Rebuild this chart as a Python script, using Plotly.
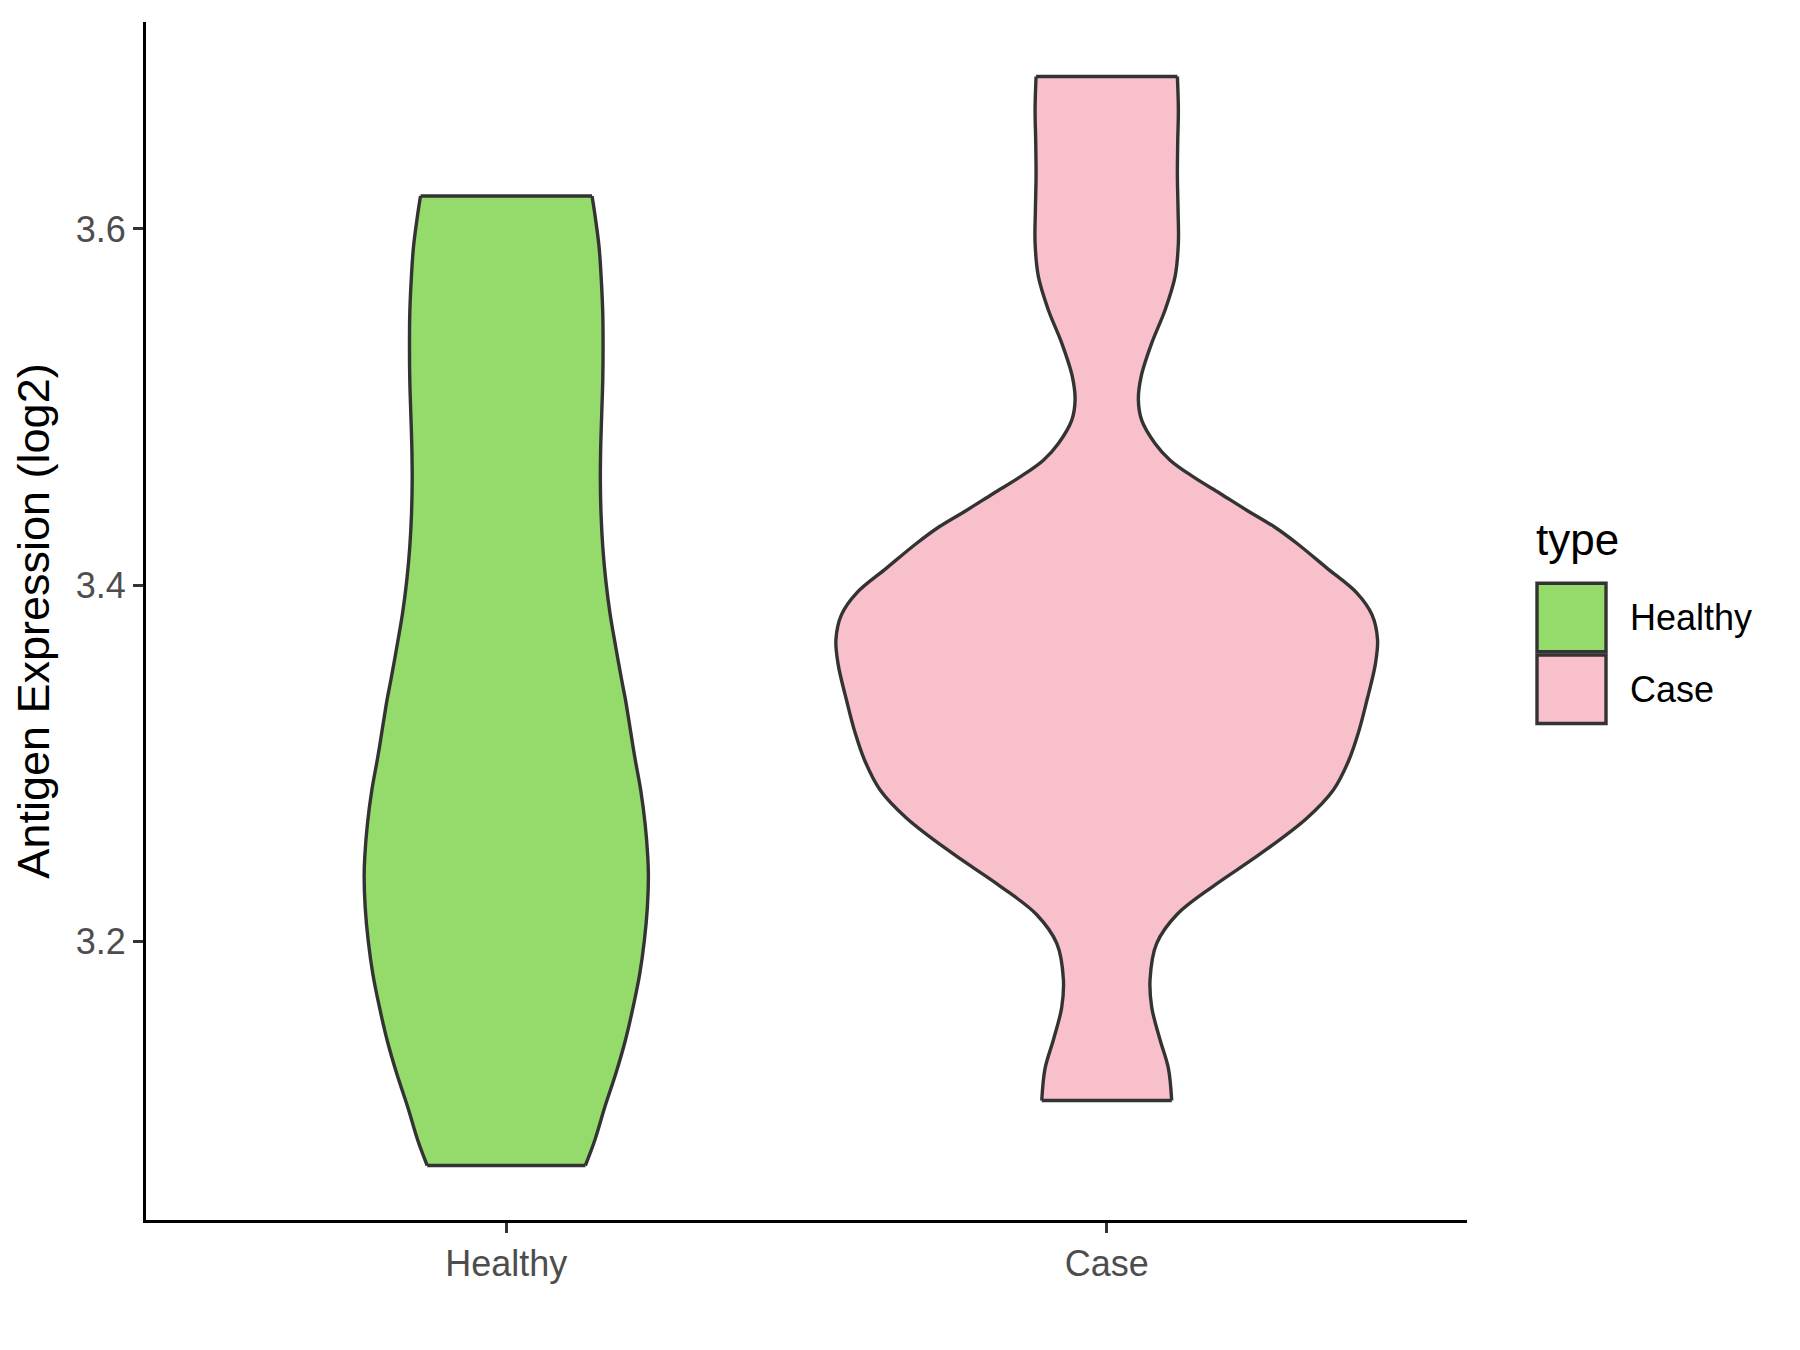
import plotly.graph_objects as go

# ---- data ----
categories = ["Healthy", "Case"]
fill_colors = ["#94DB6B", "#F8C0CB"]

# expression level (log2) and violin half-width (in category units) along the outline
healthy_levels = [3.6185, 3.6088, 3.5901, 3.5713, 3.5526, 3.5339, 3.5152, 3.4965, 3.4777,
                  3.4590, 3.4403, 3.4215, 3.4028, 3.3841, 3.3653, 3.3466, 3.3363, 3.3223,
                  3.3035, 3.2848, 3.2661, 3.2474, 3.2361, 3.2193, 3.2006, 3.1819, 3.1631,
                  3.1444, 3.1257, 3.1069, 3.0882, 3.0742]
healthy_halfwidth = [0.1428, 0.1473, 0.1545, 0.1583, 0.1607, 0.1612, 0.1607, 0.1590, 0.1573,
                     0.1567, 0.1578, 0.1607, 0.1657, 0.1728, 0.1823, 0.1923, 0.1982, 0.2050,
                     0.2140, 0.2240, 0.2312, 0.2357, 0.2367, 0.2350, 0.2300, 0.2223, 0.2112,
                     0.1983, 0.1823, 0.1640, 0.1473, 0.1317]

case_levels = [3.6856, 3.6669, 3.6481, 3.6294, 3.6107, 3.5920, 3.5732, 3.5545, 3.5358,
               3.5170, 3.5039, 3.4927, 3.4796, 3.4702, 3.4608, 3.4515, 3.4421, 3.4328,
               3.4234, 3.4096, 3.3956, 3.3835, 3.3695, 3.3554, 3.3354, 3.3174, 3.3013,
               3.2852, 3.2692, 3.2491, 3.2311, 3.2150, 3.1989, 3.1789, 3.1629, 3.1448,
               3.1287, 3.1107]
case_halfwidth = [0.1177, 0.1193, 0.1182, 0.1177, 0.1188, 0.1193, 0.1138, 0.0972, 0.0748,
                  0.0572, 0.0527, 0.0582, 0.0805, 0.1055, 0.1443, 0.1888, 0.2332, 0.2790,
                  0.3170, 0.3667, 0.4167, 0.4417, 0.4510, 0.4472, 0.4333, 0.4193, 0.4027,
                  0.3777, 0.3332, 0.2555, 0.1777, 0.1165, 0.0832, 0.0722, 0.0750, 0.0888,
                  0.1027, 0.1082]

y_ticks = [3.2, 3.4, 3.6]

profiles = [(healthy_levels, healthy_halfwidth), (case_levels, case_halfwidth)]

OUTLINE = "#333333"
LW = 3.4

fig = go.Figure()
for i, (cat, (lev, hw)) in enumerate(zip(categories, profiles)):
    pos = i + 1
    # fill polygon: right side (top->bottom), then left side (bottom->top)
    xs = [pos + w for w in hw] + [pos - w for w in reversed(hw)]
    ys = list(lev) + list(reversed(lev))
    fig.add_trace(go.Scatter(x=xs, y=ys, mode="lines", fill="toself",
                             fillcolor=fill_colors[i],
                             line=dict(width=0, color=fill_colors[i]),
                             hoverinfo="skip", showlegend=False))
    # smooth side outlines
    for sgn in (1, -1):
        fig.add_trace(go.Scatter(x=[pos + sgn * w for w in hw], y=lev, mode="lines",
                                 line=dict(color=OUTLINE, width=LW, shape="spline",
                                           smoothing=1, simplify=False),
                                 hoverinfo="skip", showlegend=False))
    # flat trimmed ends
    fig.add_trace(go.Scatter(x=[pos - hw[0], pos + hw[0], None, pos - hw[-1], pos + hw[-1]],
                             y=[lev[0], lev[0], None, lev[-1], lev[-1]], mode="lines",
                             line=dict(color=OUTLINE, width=LW),
                             hoverinfo="skip", showlegend=False))

# page geometry: the html body adds an 8 px margin around the figure
PAD = 8
FIG_W, FIG_H = 1800 - 2 * PAD, 1350 - 2 * PAD
# plot-area edges in page pixels
L, R, T, B = 146, 1467, 22, 1220
W, H = R - L, B - T
def px(xp):
    return (xp - L) / W
def py(yp):
    return (B - yp) / H

shapes = []
key_tops = [583.3, 655.0]
for i, top in enumerate(key_tops):
    shapes.append(dict(type="rect", xref="paper", yref="paper",
                       x0=px(1537), x1=px(1606), y0=py(top + 68.5), y1=py(top),
                       fillcolor=fill_colors[i], line=dict(color=OUTLINE, width=LW)))

annotations = [
    dict(text="type", xref="paper", yref="paper", x=px(1534), y=py(539), xanchor="left",
         yanchor="middle", showarrow=False,
         font=dict(family="Liberation Sans, Arial", size=44, color="black")),
]
for i, cat in enumerate(categories):
    annotations.append(dict(text=cat, xref="paper", yref="paper", x=px(1628),
                            y=py(key_tops[i] + 34.5), xanchor="left", yanchor="middle",
                            showarrow=False,
                            font=dict(family="Liberation Sans, Arial", size=36, color="black")))

fig.update_layout(
    width=FIG_W, height=FIG_H,
    margin=dict(l=L - PAD, r=FIG_W - (R - PAD), t=T - PAD, b=FIG_H - (B - PAD)),
    paper_bgcolor="white", plot_bgcolor="white",
    showlegend=False,
    shapes=shapes, annotations=annotations,
    font=dict(family="Liberation Sans, Arial"),
)
fig.update_xaxes(range=[0.4, 2.6], tickvals=[1, 2], ticktext=categories,
                 showgrid=False, zeroline=False, showline=True, linecolor="black",
                 linewidth=2.8, ticks="outside", ticklen=10, tickwidth=2.8,
                 tickcolor=OUTLINE, tickfont=dict(size=36, color="#4D4D4D"))
fig.update_yaxes(range=[3.0436, 3.7162], tickvals=y_ticks,
                 ticktext=[f"{v:.1f}" for v in y_ticks],
                 showgrid=False, zeroline=False, showline=True, linecolor="black",
                 linewidth=2.8, ticks="outside", ticklen=10, tickwidth=2.8,
                 tickcolor=OUTLINE, tickfont=dict(size=36, color="#4D4D4D"),
                 title=dict(text="Antigen Expression (log2)", standoff=16,
                            font=dict(size=45, color="black")))

fig.write_html("out.html")
